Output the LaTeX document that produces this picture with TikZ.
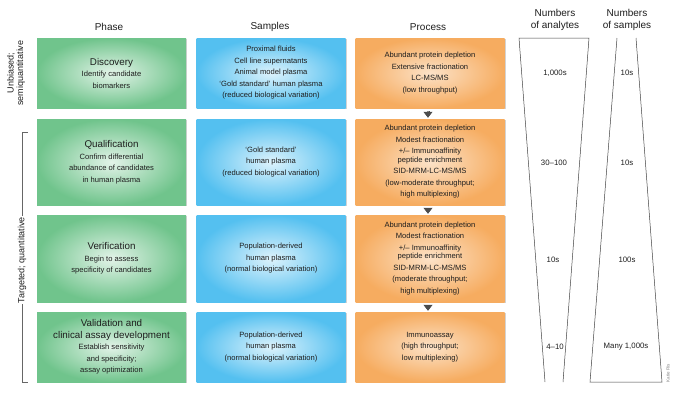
\documentclass[tikz,border=0pt]{standalone}
\usepackage{fontspec}
\setmainfont{Liberation Sans}
\usetikzlibrary{shadows,arrows.meta}
\definecolor{gr}{RGB}{112,196,140}
\definecolor{bl}{RGB}{84,192,240}
\definecolor{or}{RGB}{246,172,96}
\definecolor{tx}{RGB}{30,30,30}
\begin{document}
\begin{tikzpicture}[x=1pt,y=-1pt,
 box/.style={minimum width=149pt,inner sep=0pt,align=center,font=\fontsize{7.6}{11.5}\selectfont,text=tx,drop shadow={opacity=0.35,shadow xshift=1pt,shadow yshift=-1pt}},
 g/.style={box,inner color=white!80!gr,outer color=gr},
 b/.style={box,inner color=white!80!bl,outer color=bl},
 o/.style={box,inner color=white!65!or,outer color=or},
 hd/.style={font=\fontsize{10}{11.5}\selectfont,align=center,text=tx},
 tt/.style={font=\fontsize{9.8}{12}\selectfont},
 num/.style={font=\fontsize{7.8}{9}\selectfont,text=tx},
 dar/.style={draw=black!70,double=black!45,double distance=1.6pt,line width=0.7pt,-{Triangle[length=6pt,width=9pt,fill=black!70]}}]
\useasboundingbox (0,0) rectangle (685,400);
% headers
\node[hd] (h1) at (109,27) {Phase};
\node[hd] (h2) at (270,27) {Samples};
\node[hd] (h3) at (428,27) {Process};
\node[hd] (h4) at (555,20) {Numbers\\of analytes};
\node[hd] (h5) at (627,20) {Numbers\\of samples};
% row 1
\node[g,minimum height=70pt] (p1) at (111.5,73) {{\fontsize{9.8}{12}\selectfont Discovery}\\Identify candidate\\biomarkers};
\node[b,minimum height=70pt] (s1) at (271,73) {Proximal fluids\\Cell line supernatants\\Animal model plasma\\`Gold standard' human plasma\\(reduced biological variation)};
\node[o,minimum height=70pt] (r1) at (430,73) {Abundant protein depletion\\Extensive fractionation\\LC-MS/MS\\(low throughput)};
% row 2
\node[g,minimum height=86pt] (p2) at (111.5,162) {{\fontsize{9.8}{12}\selectfont Qualification}\\Confirm differential\\abundance of candidates\\in human plasma};
\node[b,minimum height=86pt] (s2) at (271,162) {`Gold standard'\\human plasma\\(reduced biological variation)};
\node[o,minimum height=86pt] (r2) at (430,162) {Abundant protein depletion\\Modest fractionation\\+/-- Immunoaffinity\\[-3pt]peptide enrichment\\SID-MRM-LC-MS/MS\\(low-moderate throughput;\\high multiplexing)};
% row 3
\node[g,minimum height=87pt] (p3) at (111.5,258.5) {{\fontsize{9.8}{12}\selectfont Verification}\\Begin to assess\\specificity of candidates};
\node[b,minimum height=87pt] (s3) at (271,258.5) {Population-derived\\human plasma\\(normal biological variation)};
\node[o,minimum height=87pt] (r3) at (430,258.5) {Abundant protein depletion\\Modest fractionation\\+/-- Immunoaffinity\\[-3pt]peptide enrichment\\SID-MRM-LC-MS/MS\\(moderate throughput;\\high multiplexing)};
% row 4
\node[g,minimum height=70pt] (p4) at (111.5,347) {{\fontsize{9.8}{12}\selectfont Validation and}\\{\fontsize{9.8}{12}\selectfont clinical assay development}\\Establish sensitivity\\and specificity;\\assay optimization};
\node[b,minimum height=70pt] (s4) at (271,347) {Population-derived\\human plasma\\(normal biological variation)};
\node[o,minimum height=70pt] (r4) at (430,347) {Immunoassay\\(high throughput;\\low multiplexing)};
% arrows
\draw[dar] ([xshift=-2pt,yshift=-3pt]r1.south) -- ([xshift=-2pt,yshift=1pt]r2.north);
\draw[dar] ([xshift=-2pt,yshift=-3pt]r2.south) -- ([xshift=-2pt,yshift=1pt]r3.north);
\draw[dar] ([xshift=-2pt,yshift=-3pt]r3.south) -- ([xshift=-2pt,yshift=1pt]r4.north);
% left labels
\node[rotate=90,align=center,font=\fontsize{9}{9.5}\selectfont,text=tx] (lu) at (16,73) {Unbiased;\\semiquantitative};
\coordinate (bt) at (22,132); \coordinate (bb) at (22,382);
\draw[black!60,line width=0.5pt] (28,132) -- (bt) -- (bb) -- (28,382);
\node[rotate=90,fill=white,inner sep=1pt,font=\fontsize{9}{10}\selectfont,text=tx] (lt) at (22,260) {Targeted; quantitative};
% funnels
\coordinate (a1) at (519,38); \coordinate (a2) at (589,38); \coordinate (a3) at (563,382); \coordinate (a4) at (545,382);
\draw[black!75,line width=0.5pt] (a4) -- (a1) -- (a2) -- (a3);
\coordinate (b1) at (617,38); \coordinate (b2) at (636,38); \coordinate (b3) at (662,382); \coordinate (b4) at (590,382);
\draw[black!75,line width=0.5pt] (b1) -- (b4) -- (b3) -- (b2);
\node[num] (n1) at (555,73) {1,000s};
\node[num] (n2) at (627,73) {10s};
\node[num] (n3) at (554,163) {30--100};
\node[num] (n4) at (627,163) {10s};
\node[num] (n5) at (553,260) {10s};
\node[num] (n6) at (627,260) {100s};
\node[num] (n7) at (555,347) {4--10};
\node[num] (n8) at (626,347) {Many 1,000s};
\node[rotate=90,font=\fontsize{4.5}{5}\selectfont,text=black!50] (kr) at (668,373) {Katie Ris};
\end{tikzpicture}
\end{document}
